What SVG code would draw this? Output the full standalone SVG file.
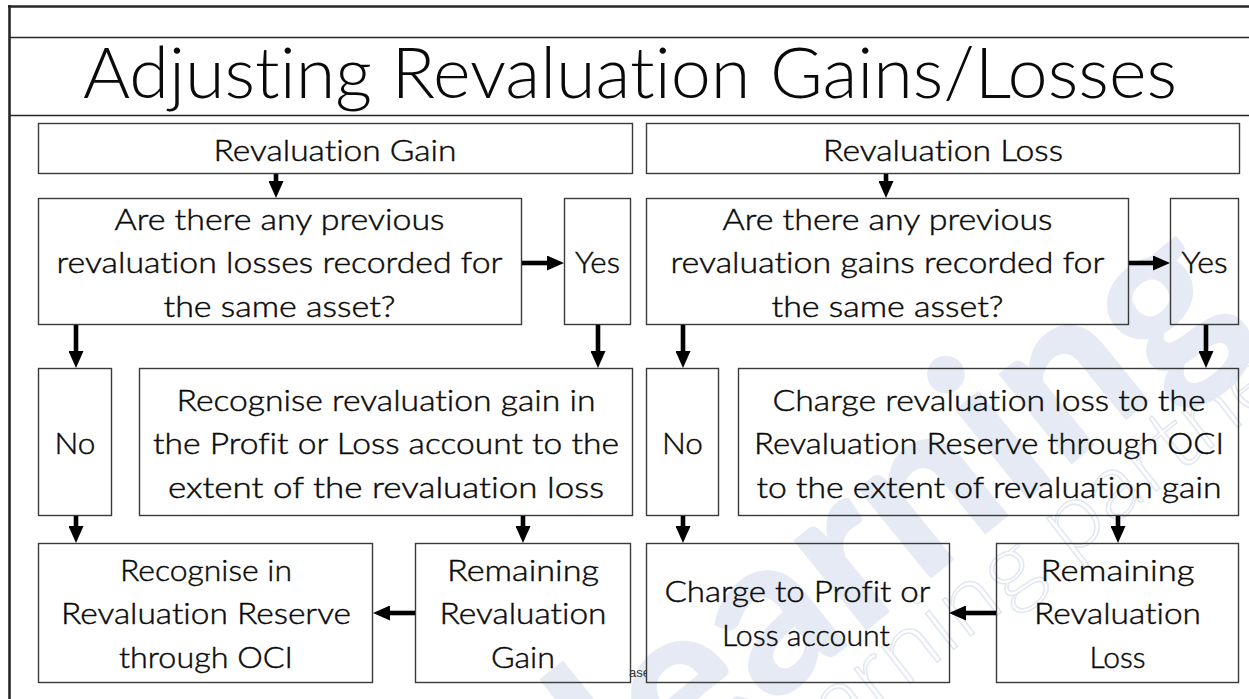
<svg xmlns="http://www.w3.org/2000/svg" width="1249" height="699" viewBox="0 0 1249 699">
  <style>
    .frame { stroke: #262626; fill: none; }
    .box { fill: none; stroke: #3a3a3a; stroke-width: 1.4; }
    .t { font-family: Lato, "Open Sans", "Liberation Sans", sans-serif; font-weight: 300; font-size: 29.5px; fill: #0a0a0a; stroke: #0a0a0a; stroke-width: 0.45; text-anchor: middle; font-variant-ligatures: none; }
    .title { font-family: Lato, "Open Sans", "Liberation Sans", sans-serif; font-weight: 300; font-size: 70px; fill: #0a0a0a; font-variant-ligatures: none; }
    .conn { stroke: #000; stroke-width: 4.6; fill: none; marker-end: url(#head); }
    .wm { font-family: Lato, "Open Sans", sans-serif; font-weight: 900; fill: #e5eaf4; font-variant-ligatures: none; }
    .wm2 { font-family: Lato, "Open Sans", sans-serif; font-weight: 300; fill: none; stroke: #e2e7f1; stroke-width: 1.5; font-variant-ligatures: none; }
    .foot { font-family: "Liberation Sans", Arial, sans-serif; font-size: 13px; fill: #333; }
  </style>
  <defs>
    <marker id="head" markerUnits="userSpaceOnUse" markerWidth="17" markerHeight="15" viewBox="0 0 17 15" refX="0" refY="7.5" orient="auto">
      <path d="M0,0 L17,7.5 L0,15 z" fill="#000"/>
    </marker>
    <clipPath id="gap">
      <rect x="600" y="640" width="46" height="50"/>
    </clipPath>
  </defs>

  <rect width="1249" height="699" fill="#fff"/>

  <!-- watermark -->
  <g id="watermark">
    <text class="wm" transform="translate(635,818) rotate(-39)" font-size="225" textLength="790" lengthAdjust="spacingAndGlyphs">learning</text>
    <text class="wm2" transform="translate(780,785) rotate(-38)" font-size="92" textLength="680" lengthAdjust="spacingAndGlyphs">learning partner</text>
  </g>

  <!-- slide frame -->
  <g id="frame">
    <line class="frame" x1="8" y1="6.5" x2="1249" y2="6.5" stroke-width="2.6"/>
    <line class="frame" x1="9.5" y1="5" x2="9.5" y2="699" stroke-width="2.6"/>
    <line class="frame" x1="9" y1="37.5" x2="1249" y2="37.5" stroke-width="1.3"/>
    <line class="frame" x1="9" y1="115.5" x2="1249" y2="115.5" stroke-width="1.3"/>
  </g>

  <text id="title" class="title" x="83" y="98" textLength="1094" lengthAdjust="spacingAndGlyphs">Adjusting Revaluation Gains/Losses</text>

  <!-- footer text, mostly hidden behind the boxes -->
  <text class="foot" x="629" y="677" clip-path="url(#gap)">ase</text>

  <!-- gain branch -->
  <g id="gain">
    <rect class="box" x="38.5" y="123.5" width="594" height="50"/>
    <text class="t" x="335" y="161" textLength="243" lengthAdjust="spacingAndGlyphs">Revaluation Gain</text>
  </g>
  <g id="gain-question">
    <rect class="box" x="38.5" y="198.5" width="483" height="126"/>
    <text class="t" x="279.5" y="229.5" textLength="330" lengthAdjust="spacingAndGlyphs">Are there any previous</text>
    <text class="t" x="279.5" y="273" textLength="446" lengthAdjust="spacingAndGlyphs">revaluation losses recorded for</text>
    <text class="t" x="279.5" y="316.5" textLength="232" lengthAdjust="spacingAndGlyphs">the same asset?</text>
  </g>
  <g id="gain-yes">
    <rect class="box" x="564.5" y="198.5" width="66" height="126"/>
    <text class="t" x="597.5" y="273" textLength="45" lengthAdjust="spacingAndGlyphs">Yes</text>
  </g>
  <g id="gain-no">
    <rect class="box" x="38.5" y="368.5" width="73" height="147"/>
    <text class="t" x="75" y="454" textLength="41" lengthAdjust="spacingAndGlyphs">No</text>
  </g>
  <g id="gain-pl">
    <rect class="box" x="139.5" y="368.5" width="493" height="147"/>
    <text class="t" x="386" y="410.5" textLength="419" lengthAdjust="spacingAndGlyphs">Recognise revaluation gain in</text>
    <text class="t" x="386" y="454" textLength="466" lengthAdjust="spacingAndGlyphs">the Profit or Loss account to the</text>
    <text class="t" x="386" y="497.5" textLength="436" lengthAdjust="spacingAndGlyphs">extent of the revaluation loss</text>
  </g>
  <g id="gain-reserve">
    <rect class="box" x="38.5" y="543.5" width="334" height="139"/>
    <text class="t" x="206" y="580.5" textLength="172" lengthAdjust="spacingAndGlyphs">Recognise in</text>
    <text class="t" x="206" y="624" textLength="290" lengthAdjust="spacingAndGlyphs">Revaluation Reserve</text>
    <text class="t" x="206" y="667.5" textLength="174" lengthAdjust="spacingAndGlyphs">through OCI</text>
  </g>
  <g id="gain-remaining">
    <rect class="box" x="415.5" y="543.5" width="215" height="139"/>
    <text class="t" x="523" y="580.5" textLength="152" lengthAdjust="spacingAndGlyphs">Remaining</text>
    <text class="t" x="523" y="624" textLength="167" lengthAdjust="spacingAndGlyphs">Revaluation</text>
    <text class="t" x="523" y="667.5" textLength="64" lengthAdjust="spacingAndGlyphs">Gain</text>
  </g>

  <!-- loss branch -->
  <g id="loss">
    <rect class="box" x="646.5" y="123.5" width="593" height="50"/>
    <text class="t" x="943" y="161" textLength="240" lengthAdjust="spacingAndGlyphs">Revaluation Loss</text>
  </g>
  <g id="loss-question">
    <rect class="box" x="646.5" y="198.5" width="482" height="126"/>
    <text class="t" x="887.5" y="229.5" textLength="330" lengthAdjust="spacingAndGlyphs">Are there any previous</text>
    <text class="t" x="887.5" y="273" textLength="434" lengthAdjust="spacingAndGlyphs">revaluation gains recorded for</text>
    <text class="t" x="887.5" y="316.5" textLength="232" lengthAdjust="spacingAndGlyphs">the same asset?</text>
  </g>
  <g id="loss-yes">
    <rect class="box" x="1170.5" y="198.5" width="68" height="126"/>
    <text class="t" x="1204.5" y="273" textLength="46" lengthAdjust="spacingAndGlyphs">Yes</text>
  </g>
  <g id="loss-no">
    <rect class="box" x="646.5" y="368.5" width="72" height="147"/>
    <text class="t" x="682.5" y="454" textLength="41" lengthAdjust="spacingAndGlyphs">No</text>
  </g>
  <g id="loss-oci">
    <rect class="box" x="738.5" y="368.5" width="500" height="147"/>
    <text class="t" x="989" y="410.5" textLength="433" lengthAdjust="spacingAndGlyphs">Charge revaluation loss to the</text>
    <text class="t" x="989" y="454" textLength="470" lengthAdjust="spacingAndGlyphs">Revaluation Reserve through OCI</text>
    <text class="t" x="989" y="497.5" textLength="465" lengthAdjust="spacingAndGlyphs">to the extent of revaluation gain</text>
  </g>
  <g id="loss-pl">
    <rect class="box" x="646.5" y="543.5" width="303" height="139"/>
    <text class="t" x="797.5" y="602" textLength="266" lengthAdjust="spacingAndGlyphs">Charge to Profit or</text>
    <text class="t" x="806" y="646" textLength="168" lengthAdjust="spacingAndGlyphs">Loss account</text>
  </g>
  <g id="loss-remaining">
    <rect class="box" x="996.5" y="543.5" width="242" height="139"/>
    <text class="t" x="1117.5" y="580.5" textLength="154" lengthAdjust="spacingAndGlyphs">Remaining</text>
    <text class="t" x="1117.5" y="624" textLength="167" lengthAdjust="spacingAndGlyphs">Revaluation</text>
    <text class="t" x="1117.5" y="667.5" textLength="56" lengthAdjust="spacingAndGlyphs">Loss</text>
  </g>

  <!-- connectors: each line stops where its arrowhead begins -->
  <g id="connectors">
    <line class="conn" x1="276" y1="174" x2="276" y2="181"/>
    <line class="conn" x1="886" y1="174" x2="886" y2="181"/>
    <line class="conn" x1="522" y1="263" x2="547" y2="263"/>
    <line class="conn" x1="1129" y1="263" x2="1153" y2="263"/>
    <line class="conn" x1="76" y1="325" x2="76" y2="351"/>
    <line class="conn" x1="598" y1="325" x2="598" y2="351"/>
    <line class="conn" x1="683" y1="325" x2="683" y2="351"/>
    <line class="conn" x1="1206" y1="325" x2="1206" y2="351"/>
    <line class="conn" x1="76" y1="516" x2="76" y2="526"/>
    <line class="conn" x1="523" y1="516" x2="523" y2="526"/>
    <line class="conn" x1="683" y1="516" x2="683" y2="526"/>
    <line class="conn" x1="1118" y1="516" x2="1118" y2="526"/>
    <line class="conn" x1="415" y1="613" x2="390" y2="613"/>
    <line class="conn" x1="996" y1="613" x2="966" y2="613"/>
  </g>
</svg>
